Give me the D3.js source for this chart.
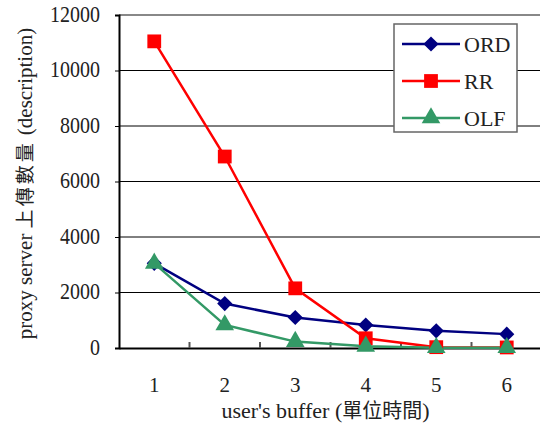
<!DOCTYPE html>
<html>
<head>
<meta charset="utf-8">
<script src="https://cdn.jsdelivr.net/npm/d3@7"></script>
<style>
  body { margin: 0; background: #fff; }
  svg text { font-family: "Liberation Serif", "DejaVu Serif", serif; fill: #222; }
  svg tspan.cjk { font-family: "Noto Sans CJK TC", "Noto Sans CJK SC", sans-serif; }
</style>
</head>
<body>
<div id="chart"></div>
<script>
// Data
const buffers = ["1", "2", "3", "4", "5", "6"];
const ordValues = [3050, 1600, 1100, 830, 620, 500];
const rrValues = [11050, 6900, 2150, 350, 30, 20];
const olfValues = [3050, 830, 230, 60, 10, 10];
const yTicks = [0, 2000, 4000, 6000, 8000, 10000, 12000];

const series = [
  { name: "ORD", values: ordValues, color: "#000080", marker: "diamond" },
  { name: "RR", values: rrValues, color: "#ff0000", marker: "square" },
  { name: "OLF", values: olfValues, color: "#339966", marker: "triangle" }
];

const width = 540, height = 425;
const margin = { top: 15, right: 0, bottom: 77, left: 119 };
const plotW = 423, plotH = height - margin.top - margin.bottom;

const svg = d3.select("#chart").append("svg")
  .attr("width", width)
  .attr("height", height);

const g = svg.append("g")
  .attr("transform", `translate(${margin.left},${margin.top})`);

const xScale = d3.scaleBand().domain(buffers).range([0, plotW]);
const yScale = d3.scaleLinear().domain([0, 12000]).range([plotH, 0]);

// Gridlines
g.selectAll("line.grid")
  .data(yTicks.filter(d => d > 0))
  .enter()
  .append("line")
    .attr("x1", 0).attr("x2", plotW)
    .attr("y1", d => yScale(d)).attr("y2", d => yScale(d))
    .attr("stroke", d => d === 12000 ? "#888" : "#000")
    .attr("stroke-width", d => d === 12000 ? 2 : 1);

// Y axis (tall, narrow digits like the original font)
const yAxis = g.append("g")
  .call(d3.axisLeft(yScale).tickValues(yTicks).tickSize(4).tickPadding(15).tickFormat(d3.format("d")));
yAxis.select(".domain").attr("stroke", "#000").attr("stroke-width", 2);
yAxis.selectAll(".tick line").attr("stroke", "#000");
yAxis.selectAll("text")
  .style("font-size", "20px")
  .attr("dy", "0.28em")
  .attr("transform", "scale(1,1.15)")
  .attr("fill", "#222");

// X axis, ticks point up into the plot
const xAxis = g.append("g")
  .attr("transform", `translate(0,${plotH})`)
  .call(d3.axisBottom(xScale).tickSize(0).tickPadding(29));
xAxis.select(".domain").attr("stroke", "#000").attr("stroke-width", 2);
xAxis.selectAll("text").style("font-size", "21px").attr("fill", "#222");

g.selectAll("line.xtick")
  .data(buffers.slice(1))
  .enter()
  .append("line")
    .attr("x1", d => xScale(d)).attr("x2", d => xScale(d))
    .attr("y1", plotH).attr("y2", plotH - 6)
    .attr("stroke", "#555").attr("stroke-width", 2);

// Lines
const line = d3.line()
  .x((d, i) => xScale(buffers[i]) + xScale.bandwidth() / 2)
  .y(d => yScale(d));

const markerPath = {
  diamond: d3.symbol().type(d3.symbolSquare).size(115)(),
  square: d3.symbol().type(d3.symbolSquare).size(190)(),
  triangle: d3.symbol().type(d3.symbolTriangle).size(150)()
};
const markerRot = { diamond: 45, square: 0, triangle: 0 };

series.forEach(s => {
  g.append("path")
    .datum(s.values)
    .attr("fill", "none")
    .attr("stroke", s.color)
    .attr("stroke-width", 2.5)
    .attr("d", line);
});

series.forEach(s => {
  g.selectAll(null)
    .data(s.values)
    .enter()
    .append("path")
      .attr("d", markerPath[s.marker])
      .attr("transform", (d, i) => `translate(${xScale(buffers[i]) + xScale.bandwidth() / 2},${yScale(d)}) rotate(${markerRot[s.marker]})`)
      .attr("fill", s.color);
});

// Axis titles
const yTitle = svg.append("text")
  .attr("transform", `translate(32,${margin.top + plotH / 2 + 2}) rotate(-90)`)
  .attr("text-anchor", "middle")
  .style("font-size", "21px");
yTitle.append("tspan").text("proxy server ");
yTitle.append("tspan").attr("class", "cjk").attr("letter-spacing", "3").style("font-size", "19px").text("上傳數量");
yTitle.append("tspan").text(" (description)");

const xTitle = svg.append("text")
  .attr("x", margin.left + plotW / 2 - 5)
  .attr("y", 418)
  .attr("text-anchor", "middle")
  .style("font-size", "22px");
xTitle.append("tspan").text("user's buffer (");
xTitle.append("tspan").attr("class", "cjk").style("font-size", "20px").text("單位時間");
xTitle.append("tspan").text(")");

// Legend
const legend = svg.append("g").attr("transform", "translate(394,24)");
legend.append("rect")
  .attr("width", 123).attr("height", 108)
  .attr("fill", "#fff").attr("stroke", "#666").attr("stroke-width", 1.5);

series.forEach((s, i) => {
  const row = legend.append("g").attr("transform", `translate(0,${20 + i * 37})`);
  row.append("line")
    .attr("x1", 8).attr("x2", 66)
    .attr("stroke", s.color).attr("stroke-width", 2.5);
  row.append("path")
    .attr("d", markerPath[s.marker])
    .attr("transform", `translate(37,0) rotate(${markerRot[s.marker]})`)
    .attr("fill", s.color);
  row.append("text")
    .attr("x", 70).attr("y", 8)
    .style("font-size", "22px")
    .text(s.name);
});
</script>
</body>
</html>
